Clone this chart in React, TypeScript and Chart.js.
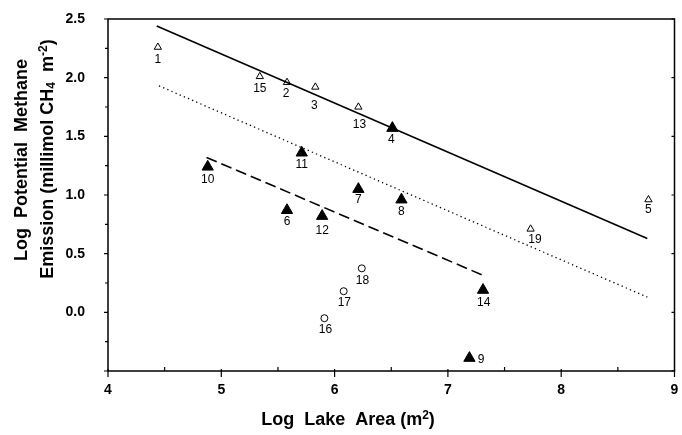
import React, { useEffect, useRef } from 'react';
import { Chart, registerables } from 'chart.js';

Chart.register(...registerables);

// ---- data (Log lake area, Log potential methane emission) ----
const openTriangleIds = ['1', '15', '2', '3', '13', '5', '19'];
const openTriangleArea = [4.44, 5.34, 5.58, 5.83, 6.21, 8.77, 7.73];
const openTriangleEmission = [2.26, 2.01, 1.96, 1.92, 1.75, 0.96, 0.71];

const filledTriangleIds = ['4', '11', '10', '7', '8', '6', '12', '14', '9'];
const filledTriangleArea = [6.51, 5.71, 4.88, 6.21, 6.59, 5.58, 5.89, 7.31, 7.19];
const filledTriangleEmission = [1.57, 1.36, 1.24, 1.05, 0.96, 0.87, 0.82, 0.19, -0.39];

const openCircleIds = ['18', '17', '16'];
const openCircleArea = [6.24, 6.08, 5.91];
const openCircleEmission = [0.375, 0.18, -0.05];

// regression lines (end points)
const upperFitArea = [4.43, 8.76];
const upperFitEmission = [2.44, 0.63];
const middleFitArea = [4.45, 8.76];
const middleFitEmission = [1.93, 0.13];
const lowerFitArea = [4.87, 7.3];
const lowerFitEmission = [1.32, 0.32];

// tick labels
const xTickValues = [4, 5, 6, 7, 8, 9];
const xTickLabels = ['4', '5', '6', '7', '8', '9'];
const yTickValues = [0, 0.5, 1, 1.5, 2, 2.5];
const yTickLabels = ['0.0', '0.5', '1.0', '1.5', '2.0', '2.5'];

// label placement (pixel offsets of the site numbers relative to their marker)
const openTriangleLabelDx = [0, 0, -1, -1, 1, 0, 4.4];
const openTriangleLabelDy = [12.3, 12.3, 11.3, 18.3, 17.3, 10, 10.6];
const filledTriangleLabelDx = [-1, 0, 0, 0, 0, 0, 0, 0.7, 11.7];
const filledTriangleLabelDy = [11.8, 12.4, 12.7, 10.7, 11.7, 11.8, 14.1, 12.7, 1.1];
const openCircleLabelDx = [0.7, 0.7, 1];
const openCircleLabelDy = [12.4, 11.6, 11.7];

const FONT = '"Liberation Sans", Arial, Helvetica, sans-serif';

const toPoints = (xs: number[], ys: number[]) => xs.map((x, i) => ({ x, y: ys[i] }));
const near = (a: number, b: number) => Math.abs(a - b) < 1e-6;

type Part = { t: string; size: number; dy: number };

function drawRich(ctx: CanvasRenderingContext2D, parts: Part[], cx: number, cy: number) {
  let total = 0;
  const widths = parts.map((p) => {
    ctx.font = `bold ${p.size}px ${FONT}`;
    const w = ctx.measureText(p.t).width;
    total += w;
    return w;
  });
  let x = cx - total / 2;
  ctx.textAlign = 'left';
  ctx.textBaseline = 'middle';
  parts.forEach((p, i) => {
    ctx.font = `bold ${p.size}px ${FONT}`;
    ctx.fillText(p.t, x, cy + p.dy);
    x += widths[i];
  });
}

const decorPlugin = {
  id: 'decor',
  afterDraw(chart: any) {
    const ctx: CanvasRenderingContext2D = chart.ctx;
    const { left, right, top, bottom } = chart.chartArea;
    const xs = chart.scales.x;
    const ys = chart.scales.y;
    ctx.save();
    ctx.strokeStyle = '#000';
    ctx.fillStyle = '#000';
    ctx.lineWidth = 1.5;
    ctx.strokeRect(left, top, right - left, bottom - top);

    // tick marks
    ctx.lineWidth = 1.2;
    ctx.beginPath();
    xs.ticks.forEach((t: any) => {
      const px = xs.getPixelForValue(t.value);
      if (near(t.value, Math.round(t.value))) {
        ctx.moveTo(px, bottom - 2);
        ctx.lineTo(px, bottom + 6);
      } else {
        ctx.moveTo(px, bottom - 4);
        ctx.lineTo(px, bottom);
      }
    });
    ys.ticks.forEach((t: any) => {
      const py = ys.getPixelForValue(t.value);
      const major = near(t.value * 2, Math.round(t.value * 2));
      ctx.moveTo(left - (major ? 4 : 3), py);
      ctx.lineTo(left, py);
      if (major) {
        ctx.moveTo(right, py);
        ctx.lineTo(right - 3, py);
      }
    });
    ctx.stroke();

    // site number labels
    ctx.font = `12px ${FONT}`;
    ctx.textAlign = 'center';
    ctx.textBaseline = 'middle';
    const groups = [
      { ids: openTriangleIds, xv: openTriangleArea, yv: openTriangleEmission, dx: openTriangleLabelDx, dy: openTriangleLabelDy },
      { ids: filledTriangleIds, xv: filledTriangleArea, yv: filledTriangleEmission, dx: filledTriangleLabelDx, dy: filledTriangleLabelDy },
      { ids: openCircleIds, xv: openCircleArea, yv: openCircleEmission, dx: openCircleLabelDx, dy: openCircleLabelDy },
    ];
    groups.forEach((g) => {
      g.ids.forEach((id, i) => {
        const px = xs.getPixelForValue(g.xv[i]) + g.dx[i];
        const py = ys.getPixelForValue(g.yv[i]) + g.dy[i];
        ctx.fillText(id, px, py);
      });
    });

    // x axis title
    drawRich(
      ctx,
      [
        { t: 'Log  Lake  Area (m', size: 18, dy: 0 },
        { t: '2', size: 12, dy: -4 },
        { t: ')', size: 18, dy: 0 },
      ],
      348,
      420
    );

    // y axis title (two lines, rotated)
    ctx.save();
    ctx.translate(22, 160);
    ctx.rotate(-Math.PI / 2);
    drawRich(ctx, [{ t: 'Log  Potential  Methane', size: 18, dy: 0 }], 0, 0);
    ctx.restore();
    ctx.save();
    ctx.translate(48, 159);
    ctx.rotate(-Math.PI / 2);
    drawRich(
      ctx,
      [
        { t: 'Emission (millimol CH', size: 18, dy: 0 },
        { t: '4', size: 12, dy: 4 },
        { t: '  m', size: 18, dy: 0 },
        { t: '-2', size: 12, dy: -4 },
        { t: ')', size: 18, dy: 0 },
      ],
      0,
      0
    );
    ctx.restore();

    ctx.restore();
  },
};

export default function App() {
  const canvasRef = useRef<HTMLCanvasElement | null>(null);

  useEffect(() => {
    if (!canvasRef.current) return;
    const chart = new Chart(canvasRef.current, {
      type: 'scatter',
      data: {
        datasets: [
          {
            label: 'filled',
            data: toPoints(filledTriangleArea, filledTriangleEmission),
            pointStyle: 'triangle',
            pointRadius: 6.5,
            backgroundColor: '#000',
            borderColor: '#000',
            borderWidth: 1,
          },
          {
            label: 'open',
            data: toPoints(openTriangleArea, openTriangleEmission),
            pointStyle: 'triangle',
            pointRadius: 4.2,
            backgroundColor: 'rgba(255,255,255,0)',
            borderColor: '#000',
            borderWidth: 1,
          },
          {
            label: 'circle',
            data: toPoints(openCircleArea, openCircleEmission),
            pointStyle: 'circle',
            pointRadius: 3.5,
            backgroundColor: '#fff',
            borderColor: '#000',
            borderWidth: 1,
          },
          {
            label: 'upper fit',
            data: toPoints(upperFitArea, upperFitEmission),
            showLine: true,
            pointRadius: 0,
            borderColor: '#000',
            borderWidth: 1.6,
          },
          {
            label: 'middle fit',
            data: toPoints(middleFitArea, middleFitEmission),
            showLine: true,
            pointRadius: 0,
            borderColor: '#000',
            borderWidth: 1.3,
            borderDash: [1.3, 3.2],
          },
          {
            label: 'lower fit',
            data: toPoints(lowerFitArea, lowerFitEmission),
            showLine: true,
            pointRadius: 0,
            borderColor: '#000',
            borderWidth: 1.6,
            borderDash: [11, 5],
          },
        ],
      },
      options: {
        responsive: false,
        devicePixelRatio: 1,
        animation: false,
        events: [],
        layout: { padding: { top: 19, right: 5, left: 0, bottom: 0 } },
        plugins: { legend: { display: false }, tooltip: { enabled: false }, title: { display: false } },
        scales: {
          x: {
            type: 'linear',
            min: 4,
            max: 9,
            grid: { display: false, drawTicks: true, tickLength: 10 },
            border: { display: false },
            afterFit: (s: any) => {
              s.height = 64;
            },
            ticks: {
              stepSize: 0.5,
              autoSkip: false,
              maxRotation: 0,
              padding: 1,
              color: '#000',
              font: { family: FONT, size: 14, weight: 'bold' },
              callback: (v: any) => {
                const i = xTickValues.findIndex((t) => near(t, Number(v)));
                return i >= 0 ? xTickLabels[i] : '';
              },
            },
          },
          y: {
            type: 'linear',
            min: -0.5,
            max: 2.5,
            grid: { display: false, drawTicks: true, tickLength: 20 },
            border: { display: false },
            afterFit: (s: any) => {
              s.width = 108;
            },
            ticks: {
              stepSize: 0.25,
              autoSkip: false,
              padding: 3,
              color: '#000',
              font: { family: FONT, size: 14, weight: 'bold' },
              callback: (v: any) => {
                const i = yTickValues.findIndex((t) => near(t, Number(v)));
                return i >= 0 ? yTickLabels[i] : '';
              },
            },
          },
        },
      },
      plugins: [decorPlugin],
    } as any);
    return () => chart.destroy();
  }, []);

  return (
    <div style={{ position: 'absolute', left: 0, top: 0, width: 682, height: 435, background: '#fff' }}>
      <canvas ref={canvasRef} width={682} height={435} style={{ display: 'block' }} />
    </div>
  );
}
